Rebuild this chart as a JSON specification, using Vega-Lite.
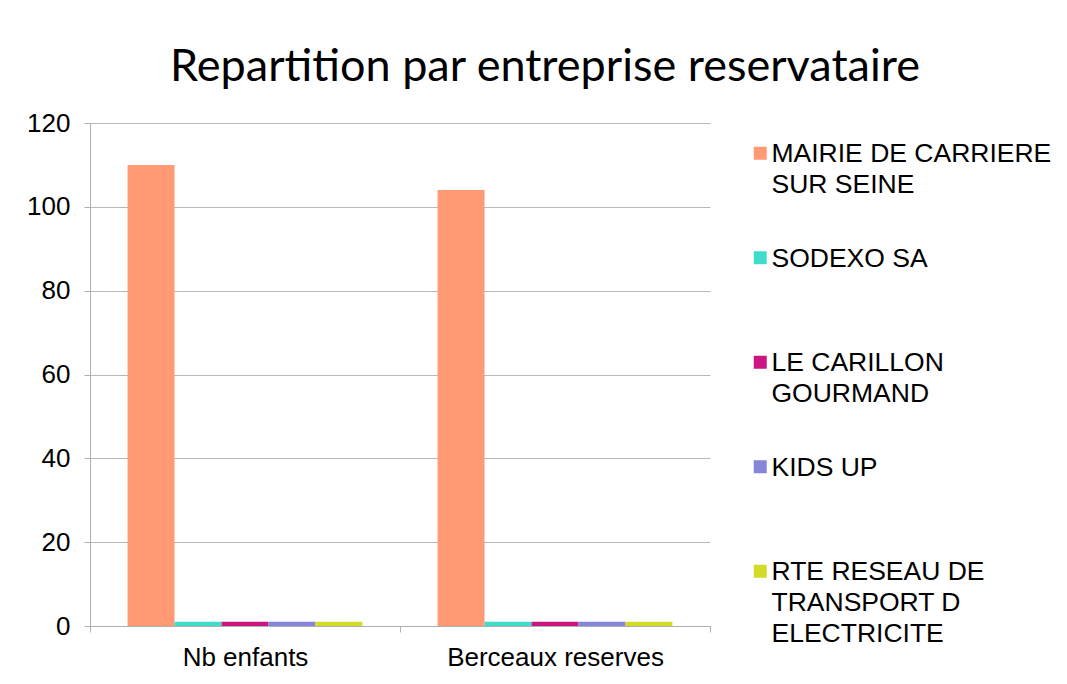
{
  "$schema": "https://vega.github.io/schema/vega-lite/v6.json",
  "width": 620,
  "height": 503,
  "autosize": {"type": "none"},
  "padding": {"left": 90, "top": 123, "right": 357, "bottom": 58},
  "background": "white",
  "title": {
    "text": "Repartition par entreprise reservataire",
    "font": "Lato",
    "fontSize": 45,
    "fontWeight": "normal",
    "color": "#000000",
    "anchor": "middle",
    "dx": 145,
    "offset": 20
  },
  "data": {
    "values": [
      {"categorie": "Nb enfants", "entreprise": "MAIRIE DE CARRIERE SUR SEINE", "valeur": 110},
      {"categorie": "Nb enfants", "entreprise": "SODEXO SA", "valeur": 1},
      {"categorie": "Nb enfants", "entreprise": "LE CARILLON GOURMAND", "valeur": 1},
      {"categorie": "Nb enfants", "entreprise": "KIDS UP", "valeur": 1},
      {"categorie": "Nb enfants", "entreprise": "RTE RESEAU DE TRANSPORT D ELECTRICITE", "valeur": 1},
      {"categorie": "Berceaux reserves", "entreprise": "MAIRIE DE CARRIERE SUR SEINE", "valeur": 104},
      {"categorie": "Berceaux reserves", "entreprise": "SODEXO SA", "valeur": 1},
      {"categorie": "Berceaux reserves", "entreprise": "LE CARILLON GOURMAND", "valeur": 1},
      {"categorie": "Berceaux reserves", "entreprise": "KIDS UP", "valeur": 1},
      {"categorie": "Berceaux reserves", "entreprise": "RTE RESEAU DE TRANSPORT D ELECTRICITE", "valeur": 1}
    ]
  },
  "mark": {"type": "bar"},
  "encoding": {
    "x": {
      "field": "categorie",
      "type": "nominal",
      "sort": ["Nb enfants", "Berceaux reserves"],
      "scale": {"paddingInner": 0, "paddingOuter": 0},
      "axis": {
        "title": null,
        "labelAngle": 0,
        "tickBand": "extent",
        "labelFont": "Liberation Sans",
        "labelFontSize": 26,
        "labelColor": "#000000",
        "labelPadding": 12,
        "labelLimit": 400,
        "domainColor": "#b0b0b0",
        "tickColor": "#b0b0b0",
        "tickSize": 6
      }
    },
    "xOffset": {
      "field": "entreprise",
      "type": "nominal",
      "sort": ["MAIRIE DE CARRIERE SUR SEINE", "SODEXO SA", "LE CARILLON GOURMAND", "KIDS UP", "RTE RESEAU DE TRANSPORT D ELECTRICITE"],
      "scale": {"paddingInner": 0, "paddingOuter": 0.8}
    },
    "y": {
      "field": "valeur",
      "type": "quantitative",
      "scale": {"domain": [0, 120], "nice": false},
      "axis": {
        "title": null,
        "values": [0, 20, 40, 60, 80, 100, 120],
        "labelFont": "Liberation Sans",
        "labelFontSize": 26,
        "labelColor": "#000000",
        "labelPadding": 14,
        "domainColor": "#b0b0b0",
        "tickColor": "#b0b0b0",
        "tickSize": 6,
        "gridColor": "#b8b8b8"
      }
    },
    "color": {
      "field": "entreprise",
      "type": "nominal",
      "sort": ["MAIRIE DE CARRIERE SUR SEINE", "SODEXO SA", "LE CARILLON GOURMAND", "KIDS UP", "RTE RESEAU DE TRANSPORT D ELECTRICITE"],
      "scale": {
        "domain": ["MAIRIE DE CARRIERE SUR SEINE", "SODEXO SA", "LE CARILLON GOURMAND", "KIDS UP", "RTE RESEAU DE TRANSPORT D ELECTRICITE"],
        "range": ["#ff9a75", "#40dccb", "#cc1580", "#8585da", "#d2dc28"]
      },
      "legend": {
        "title": null,
        "orient": "right",
        "offset": 20,
        "padding": 17,
        "symbolType": "square",
        "symbolSize": 169,
        "symbolStrokeWidth": 0,
        "labelFont": "Liberation Sans",
        "labelFontSize": 26.5,
        "labelColor": "#000000",
        "labelOffset": -2,
        "labelLimit": 400,
        "labelBaseline": "alphabetic",
        "rowPadding": 14.5,
        "labelExpr": "datum.label == 'MAIRIE DE CARRIERE SUR SEINE' ? ['MAIRIE DE CARRIERE', 'SUR SEINE', ' '] : datum.label == 'SODEXO SA' ? ['SODEXO SA', ' ', ' '] : datum.label == 'LE CARILLON GOURMAND' ? ['LE CARILLON', 'GOURMAND', ' '] : datum.label == 'KIDS UP' ? ['KIDS UP', ' ', ' '] : ['RTE RESEAU DE', 'TRANSPORT D', 'ELECTRICITE']",
        "encode": {
          "labels": {"update": {"dy": {"value": 9}, "lineHeight": {"value": 31}}}
        }
      }
    }
  },
  "config": {
    "view": {"stroke": null},
    "axis": {"domainWidth": 1, "tickWidth": 1}
  }
}
